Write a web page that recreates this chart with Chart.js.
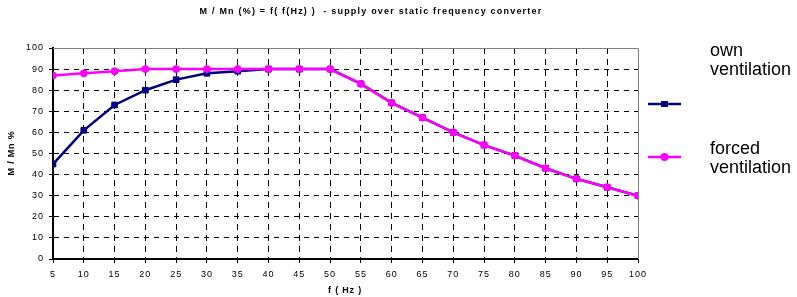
<!DOCTYPE html>
<html lang="en">
<head>
  <meta charset="UTF-8">
  <title>M / Mn over frequency</title>
  <script src="https://cdn.jsdelivr.net/npm/chart.js"></script>
  <style>
    html, body { margin: 0; padding: 0; background: #fff; }
    #wrap { width: 797px; height: 297px; }
  </style>
</head>
<body>
  <div id="wrap"><canvas id="chart" width="797" height="297"></canvas></div>

  <script>
    // frequency in Hz
    const freq = [5, 10, 15, 20, 25, 30, 35, 40, 45, 50, 55, 60, 65, 70, 75, 80, 85, 90, 95, 100];
    // M / Mn in %
    const ownVent = [45, 61, 73, 80, 85, 88, 89, 90, 90, 90, 83, 74, 67, 60, 54, 49, 43, 38, 34, 30];
    const forcedVent = [87, 88, 89, 90, 90, 90, 90, 90, 90, 90, 83, 74, 67, 60, 54, 49, 43, 38, 34, 30];
    const legendLabels = [['own', 'ventilation'], ['forced', 'ventilation']];

    const titleText = 'M / Mn (%) = f( f(Hz) )  - supply over static frequency converter';
    const xTitle = 'f ( Hz )';
    const yTitle = 'M / Mn %';

    // draws titles, plot frame and the side legend
    const extras = {
      id: 'extras',
      beforeDraw(chart) {
        chart.ctx.letterSpacing = '1px';
      },
      afterDraw(chart) {
        const ctx = chart.ctx;
        const area = chart.chartArea;
        ctx.save();
        // grey frame on top and right
        ctx.strokeStyle = '#808080';
        ctx.lineWidth = 1;
        ctx.setLineDash([]);
        ctx.beginPath();
        ctx.moveTo(area.left, area.top + 0.5);
        ctx.lineTo(area.right + 0.5, area.top + 0.5);
        ctx.lineTo(area.right + 0.5, area.bottom);
        ctx.stroke();

        ctx.fillStyle = '#000';
        ctx.textAlign = 'center';
        ctx.textBaseline = 'middle';
        ctx.letterSpacing = '1.2px';
        ctx.font = 'bold 9px "Liberation Sans", Arial, sans-serif';
        ctx.fillText(titleText, 371, 12);
        ctx.letterSpacing = '0.8px';
        ctx.fillText(xTitle, 345, 291);
        ctx.save();
        ctx.translate(12, 153);
        ctx.rotate(-Math.PI / 2);
        ctx.fillText(yTitle, 0, 0);
        ctx.restore();

        // legend
        ctx.letterSpacing = '0px';
        ctx.font = '18px "Liberation Sans", Arial, sans-serif';
        ctx.textAlign = 'left';
        ctx.textBaseline = 'alphabetic';
        const rows = [{ y: 104, text: [56, 75] }, { y: 157, text: [154, 173] }];
        chart.data.datasets.forEach((ds, i) => {
          const r = rows[i];
          ctx.strokeStyle = ds.borderColor;
          ctx.lineWidth = 2.5;
          ctx.beginPath();
          ctx.moveTo(648, r.y);
          ctx.lineTo(681, r.y);
          ctx.stroke();
          ctx.fillStyle = ds.pointBackgroundColor;
          if (ds.pointStyle === 'rect') {
            ctx.fillRect(661, r.y - 3, 7, 6);
          } else {
            ctx.beginPath();
            ctx.arc(664.5, r.y, 4, 0, Math.PI * 2);
            ctx.fill();
          }
          ctx.fillStyle = '#000';
          ctx.fillText(legendLabels[i][0], 710, r.text[0]);
          ctx.fillText(legendLabels[i][1], 710, r.text[1]);
        });
        ctx.restore();
      }
    };

    const tickFont = { family: '"Liberation Sans", Arial, sans-serif', size: 9 };

    new Chart(document.getElementById('chart'), {
      type: 'line',
      data: {
        datasets: [
          {
            label: 'own ventilation',
            data: freq.map((f, i) => ({ x: f, y: ownVent[i] })),
            borderColor: '#000080',
            backgroundColor: '#000080',
            pointBackgroundColor: '#000080',
            pointBorderColor: '#000080',
            pointStyle: 'rect',
            pointRadius: 4,
            pointBorderWidth: 1,
            borderWidth: 2.5,
            order: 1
          },
          {
            label: 'forced ventilation',
            data: freq.map((f, i) => ({ x: f, y: forcedVent[i] })),
            borderColor: '#ff00ff',
            backgroundColor: '#ff00ff',
            pointBackgroundColor: '#ff00ff',
            pointBorderColor: '#ff00ff',
            pointStyle: 'circle',
            pointRadius: 3.5,
            pointBorderWidth: 1,
            borderWidth: 2.5,
            order: 0
          }
        ]
      },
      options: {
        responsive: false,
        animation: false,
        layout: { padding: { left: 0, right: 159, top: 48, bottom: 0 } },
        plugins: { legend: { display: false }, title: { display: false }, tooltip: { enabled: false } },
        scales: {
          x: {
            type: 'linear',
            min: 5,
            max: 100,
            afterFit: s => { s.height = 38; },
            afterBuildTicks: s => { s.ticks = freq.map(v => ({ value: v })); },
            ticks: { color: '#000', font: tickFont, padding: 6, maxRotation: 0, autoSkip: false },
            grid: {
              color: c => (c.tick && (c.tick.value === 100 || c.tick.value === 5)) ? 'rgba(0,0,0,0)' : '#000',
              tickColor: '#000',
              tickLength: 4,
              tickBorderDash: [],
              lineWidth: 1
            },
            border: { display: true, color: '#000', width: 2, dash: [6, 5] }
          },
          y: {
            min: 0,
            max: 100,
            afterFit: s => { s.width = 53; },
            ticks: { stepSize: 10, color: '#000', font: tickFont, padding: 5 },
            grid: {
              color: c => (c.tick && (c.tick.value === 100 || c.tick.value === 0)) ? 'rgba(0,0,0,0)' : '#000',
              tickColor: '#000',
              tickLength: 4,
              tickBorderDash: [],
              lineWidth: 1
            },
            border: { display: true, color: '#000', width: 2, dash: [5, 5] }
          }
        }
      },
      plugins: [extras]
    });
  </script>
</body>
</html>
